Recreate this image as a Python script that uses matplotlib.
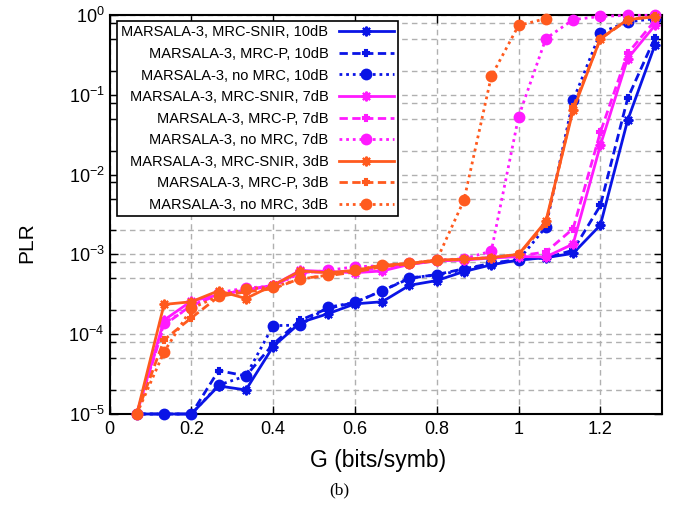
import numpy as np
import matplotlib
matplotlib.use('Agg')
import matplotlib.pyplot as plt
from matplotlib.ticker import LogLocator, NullFormatter

plt.rcParams['font.family'] = ['Liberation Sans', 'DejaVu Sans']
plt.rcParams['mathtext.fontset'] = 'custom'
plt.rcParams['mathtext.rm'] = 'Liberation Sans'
plt.rcParams['mathtext.it'] = 'Liberation Sans'

# G values (bits/symb)
G = [k / 15 for k in range(1, 21)]

# 10 dB
b_snir = [1e-5, 1e-5, 1e-5, 2.25e-5, 2.0e-5, 7.0e-5, 1.4e-4, 1.8e-4, 2.4e-4, 2.55e-4,
          4.1e-4, 4.7e-4, 6.1e-4, 7.4e-4, 8.5e-4, 9.1e-4, 1.03e-3, 2.33e-3, 0.048, 0.42]
b_mrcp = [1e-5, 1e-5, 1e-5, 3.5e-5, 3.0e-5, 7.5e-5, 1.5e-4, 2.1e-4, 2.5e-4, 3.5e-4,
          5.0e-4, 5.6e-4, 6.6e-4, 7.7e-4, 8.7e-4, 9.0e-4, 1.13e-3, 4.1e-3, 0.09, 0.52]
b_nomrc = [1e-5, 1e-5, 1e-5, 2.3e-5, 3.0e-5, 1.28e-4, 1.3e-4, 2.17e-4, 2.5e-4, 3.5e-4,
           5.1e-4, 5.5e-4, 6.4e-4, 7.7e-4, 8.5e-4, 2.2e-3, 0.085, 0.6, 0.82, 0.90]

# 7 dB
m_snir = [1e-5, 1.5e-4, 2.6e-4, 3.1e-4, 3.6e-4, 4.1e-4, 6.3e-4, 6.1e-4, 5.9e-4, 6.2e-4,
          7.5e-4, 8.3e-4, 8.5e-4, 9.0e-4, 9.4e-4, 9.3e-4, 1.35e-3, 0.0233, 0.284, 0.74]
m_mrcp = [1e-5, 1.3e-4, 2.3e-4, 3.1e-4, 3.6e-4, 4.0e-4, 6.0e-4, 6.0e-4, 6.2e-4, 6.8e-4,
          7.6e-4, 8.3e-4, 8.6e-4, 9.2e-4, 9.6e-4, 1.07e-3, 2.1e-3, 0.034, 0.33, 0.85]
m_nomrc = [1e-5, 1.38e-4, 2.2e-4, 3.3e-4, 3.8e-4, 4.0e-4, 5.8e-4, 6.3e-4, 7.0e-4, 7.2e-4,
           7.7e-4, 8.5e-4, 8.8e-4, 1.1e-3, 0.053, 0.506, 0.875, 0.96, 0.99, 0.99]

# 3 dB
o_snir = [1e-5, 2.36e-4, 2.55e-4, 3.5e-4, 2.8e-4, 4.1e-4, 6.2e-4, 5.9e-4, 6.3e-4, 7.3e-4,
          7.7e-4, 8.5e-4, 8.7e-4, 9.1e-4, 1.0e-3, 2.6e-3, 0.064, 0.506, 0.875, 0.95]
o_mrcp = [1e-5, 8.5e-5, 1.6e-4, 2.95e-4, 3.4e-4, 3.7e-4, 5.0e-4, 5.4e-4, 6.0e-4, 7.0e-4,
          7.6e-4, 8.3e-4, 8.7e-4, 9.1e-4, 1.0e-3, 2.4e-3, 0.07, 0.5, 0.87, 0.97]
o_nomrc = [1e-5, 6.0e-5, 2.1e-4, 3.0e-4, 3.7e-4, 3.9e-4, 4.9e-4, 5.5e-4, 6.3e-4, 7.4e-4,
           7.7e-4, 8.5e-4, 4.8e-3, 0.17, 0.74, 0.90]

blue = '#0a14e6'
mag = '#ff1aff'
orange = '#ff5a1e'
dot = (0, (1, 1.4))
dash = (0, (3, 1.6))
star = (8, 2, 0)

fig = plt.figure(figsize=(6.81, 5.05), dpi=100)
ax = fig.add_axes([0.1608, 0.1802, 0.8109, 0.7901])

series = [
    (b_snir, blue, '-', star, 7, 'MARSALA-3, MRC-SNIR, 10dB'),
    (b_mrcp, blue, dash, 'P', 4, 'MARSALA-3, MRC-P, 10dB'),
    (b_nomrc, blue, dot, 'o', 7, 'MARSALA-3, no MRC, 10dB'),
    (m_snir, mag, '-', star, 7, 'MARSALA-3, MRC-SNIR, 7dB'),
    (m_mrcp, mag, dash, 'P', 4, 'MARSALA-3, MRC-P, 7dB'),
    (m_nomrc, mag, dot, 'o', 7, 'MARSALA-3, no MRC, 7dB'),
    (o_snir, orange, '-', star, 7, 'MARSALA-3, MRC-SNIR, 3dB'),
    (o_mrcp, orange, dash, 'P', 4, 'MARSALA-3, MRC-P, 3dB'),
    (o_nomrc, orange, dot, 'o', 7, 'MARSALA-3, no MRC, 3dB'),
]
for y, c, ls, mk, ms, lab in series:
    ax.plot(G[:len(y)], y, color=c, linestyle=ls, marker=mk, markersize=ms,
            markeredgewidth=1.5, linewidth=2, label=lab, clip_on=False, zorder=3)

ax.set_yscale('log')
ax.set_xlim(0, 1.35)
ax.set_ylim(1e-5, 1)
ax.set_xticks([0, 0.2, 0.4, 0.6, 0.8, 1.0, 1.2])
ax.set_xticklabels(['0', '0.2', '0.4', '0.6', '0.8', '1', '1.2'])
ax.yaxis.set_major_locator(LogLocator(base=10, numticks=10))
ax.yaxis.set_minor_locator(LogLocator(base=10, subs=[2, 5, 8], numticks=10))
ax.yaxis.set_minor_formatter(NullFormatter())
ax.tick_params(which='both', direction='in', top=True, right=True, labelsize=13)
ax.tick_params(which='major', length=6, width=1)
ax.tick_params(axis='x', pad=5)
ax.tick_params(which='minor', length=4, width=1)
ax.grid(True, which='major', color='#b0b0b0', linestyle=(0, (4, 3)), linewidth=1)
ax.grid(True, which='minor', axis='y', color='#b0b0b0', linestyle=(0, (4, 3)), linewidth=1)
for s in ax.spines.values():
    s.set_linewidth(1.5)

ax.set_xlabel('G (bits/symb)', fontsize=16.5)
ax.set_ylabel('PLR', fontsize=15)
ax.xaxis.set_label_coords(0.486, -0.088)
ax.yaxis.set_label_coords(-0.132, 0.43)

leg = ax.legend(loc='upper left', markerfirst=False, fontsize=10.5, frameon=True,
                fancybox=False, edgecolor='black', framealpha=1, handlelength=3.8,
                labelspacing=0.52, borderpad=0.3, handletextpad=0.7,
                borderaxespad=0, bbox_to_anchor=(0.0135, 0.985))
leg.get_frame().set_linewidth(1.2)
leg.set_zorder(5)

fig.text(0.498, 0.028, '(b)', family='Liberation Serif', fontsize=12.5,
         ha='center', va='center')

fig.savefig('out.png', dpi=100)
